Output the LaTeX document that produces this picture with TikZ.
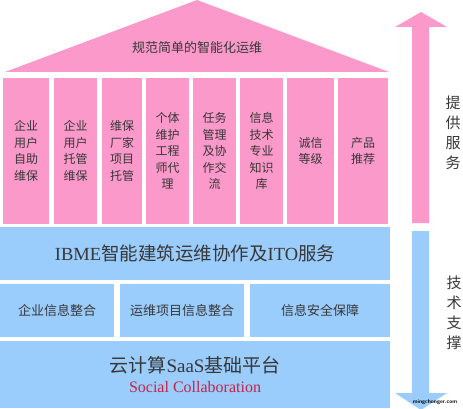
\documentclass[tikz,border=0pt]{standalone}
\usepackage{fontspec}
\setmainfont{Liberation Serif}
\newfontfamily\cjk{Noto Sans CJK SC}
\usetikzlibrary{positioning}
\definecolor{roofpink}{RGB}{250,153,202}
\definecolor{baseblue}{RGB}{154,204,252}
\definecolor{inkgray}{RGB}{55,55,55}
\definecolor{socialred}{RGB}{196,36,72}

\begin{document}
\begin{tikzpicture}[x=1pt,y=-1pt,
 pillar/.style={fill=roofpink,inner sep=0pt,text=inkgray,align=center,
                font={\cjk\fontsize{12}{16.5}\selectfont},minimum height=145pt},
 layer/.style={fill=baseblue,inner sep=0pt,text=inkgray,align=center},
 side/.style={text=inkgray,align=center,font={\cjk\fontsize{15}{20}\selectfont}}]
\useasboundingbox (0,0) rectangle (463,409);
% roof
\fill[roofpink] (5,72) -- (197,0) -- (389,72) -- cycle;
\node[text=inkgray,font={\cjk\fontsize{13}{14}\selectfont}] (roof) at (197,48) {规范简单的智能化运维};
% pillars
\node[pillar,minimum width=46pt] (selfhelp) at (26,151) {企业\\用户\\自助\\维保};
\node[pillar,minimum width=43pt] (hosted) at (75.5,151) {企业\\用户\\托管\\维保};
\node[pillar,minimum width=40pt] (vendor) at (122,151) {维保\\厂家\\项目\\托管};
\node[pillar,minimum width=43pt] (agent) at (167.5,151) {个体\\维护\\工程\\师代\\理};
\node[pillar,minimum width=43pt] (tasks) at (214.5,151) {任务\\管理\\及协\\作交\\流};
\node[pillar,minimum width=43pt] (knowledge) at (261.5,151) {信息\\技术\\专业\\知识\\库};
\node[pillar,minimum width=47pt] (credit) at (310.5,151) {诚信\\等级};
\node[pillar,minimum width=50pt] (product) at (363,151) {产品\\推荐};
% base layers
\node[layer,minimum width=390pt,minimum height=53pt,font={\fontsize{18.5}{20}\selectfont}] (ibme) at (195,253.5)
  {IBME{\cjk 智能建筑运维协作及}ITO{\cjk 服务}};
\node[layer,minimum width=114pt,minimum height=53pt,font={\cjk\fontsize{13}{14}\selectfont}] (enterprise) at (57,310.5) {企业信息整合};
\node[layer,minimum width=124pt,minimum height=53pt,font={\cjk\fontsize{13}{14}\selectfont}] (project) at (182,310.5) {运维项目信息整合};
\node[layer,minimum width=140pt,minimum height=53pt,font={\cjk\fontsize{13}{14}\selectfont}] (security) at (320,310.5) {信息安全保障};
\node[layer,minimum width=390pt,minimum height=67pt] (saas) at (195,374.5) {};
\node[text=inkgray,font={\fontsize{19}{20}\selectfont}] (cloud) at (195,365) {{\cjk 云计算}SaaS{\cjk 基础平台}};
\node[text=socialred,font={\fontsize{16}{17}\selectfont}] (social) at (195,387) {Social Collaboration};
% side arrows
\fill[roofpink] (412,223) -- (412,27) -- (395,27) -- (421,12) -- (447,27) -- (429,27) -- (429,223) -- cycle;
\fill[baseblue] (412,231) -- (412,393) -- (395,393) -- (421,410) -- (447,393) -- (429,393) -- (429,231) -- cycle;
\node[side] (provide) at (453,133) {提\\供\\服\\务};
\node[side] (support) at (454,313) {技\\术\\支\\撑};
\node[font={\sffamily\bfseries\fontsize{5.5}{6}\selectfont}] (mark) at (435,402) {mingchonger.com};
\end{tikzpicture}
\end{document}
